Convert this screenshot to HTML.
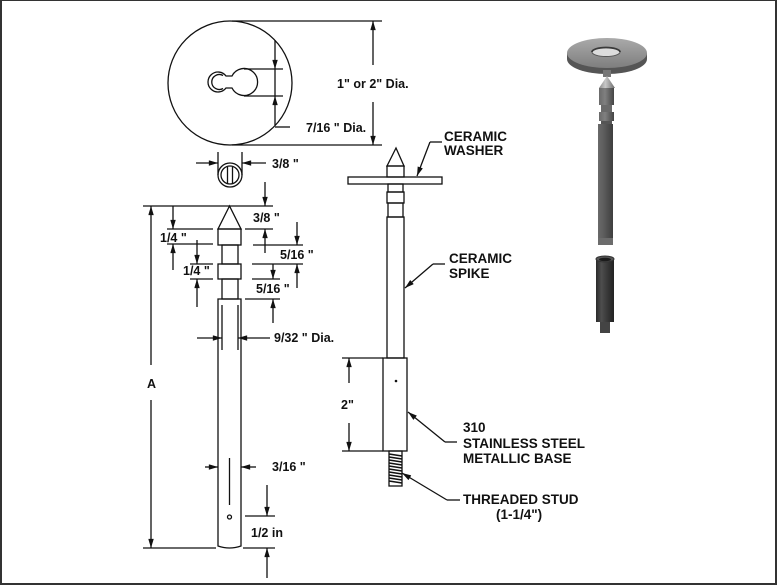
<!DOCTYPE html>
<html><head><meta charset="utf-8"><style>
html,body{margin:0;padding:0;background:#fff;}
svg{display:block;}
text{font-family:"Liberation Sans",Arial,sans-serif;font-weight:bold;fill:#111;}
.d{font-size:12.5px;}
.l{font-size:13.5px;}
</style></head><body>
<svg width="777" height="585" viewBox="0 0 777 585" xmlns="http://www.w3.org/2000/svg">
<defs>
<marker id="a" viewBox="0 0 10 6" refX="10" refY="3" markerWidth="11" markerHeight="5.5" markerUnits="userSpaceOnUse" orient="auto"><path d="M0,0 L10,3 L0,6 z" fill="#111"/></marker>
<linearGradient id="wash" x1="0" y1="0" x2="0" y2="1"><stop offset="0" stop-color="#aaaaaa"/><stop offset="1" stop-color="#7e7e7e"/></linearGradient>
<linearGradient id="shaft" x1="0" y1="0" x2="1" y2="0"><stop offset="0" stop-color="#6a6a6a"/><stop offset="0.35" stop-color="#5e5e5e"/><stop offset="1" stop-color="#3e3e3e"/></linearGradient>
<linearGradient id="base" x1="0" y1="0" x2="1" y2="0"><stop offset="0" stop-color="#2a2a2a"/><stop offset="0.3" stop-color="#4e4e4e"/><stop offset="0.6" stop-color="#3a3a3a"/><stop offset="1" stop-color="#222"/></linearGradient>
<linearGradient id="cone" x1="0" y1="0" x2="1" y2="0"><stop offset="0" stop-color="#8a8a8a"/><stop offset="0.4" stop-color="#c8c8c8"/><stop offset="1" stop-color="#6a6a6a"/></linearGradient>
<linearGradient id="col" x1="0" y1="0" x2="1" y2="0"><stop offset="0" stop-color="#6a6a6a"/><stop offset="0.4" stop-color="#808080"/><stop offset="1" stop-color="#454545"/></linearGradient>
</defs>

<!-- border -->
<rect x="0" y="0" width="777" height="1" fill="#333"/>
<rect x="0" y="0" width="2" height="585" fill="#333"/>
<rect x="775" y="0" width="2" height="585" fill="#333"/>
<rect x="0" y="583" width="777" height="2" fill="#333"/>

<g stroke="#111" stroke-width="1.3" fill="none">
<!-- washer top view -->
<circle cx="230" cy="83" r="62"/>
<line x1="232" y1="21" x2="382" y2="21"/>
<line x1="232" y1="145" x2="382" y2="145"/>
<line x1="373" y1="65" x2="373" y2="21" marker-end="url(#a)"/>
<line x1="373" y1="102" x2="373" y2="145" marker-end="url(#a)"/>
<path d="M226,76 L232,76 A13.5,13.5 0 1 1 232,88 L226,88 A10,10 0 1 1 226,76 Z"/>
<path d="M223,75.5 A7.5,7.5 0 1 0 223,88.5"/>
<line x1="244" y1="69" x2="283" y2="69"/>
<line x1="244" y1="96" x2="283" y2="96"/>
<line x1="275" y1="40" x2="275" y2="69" marker-end="url(#a)"/>
<line x1="275" y1="69" x2="275" y2="96"/>
<line x1="275" y1="125" x2="275" y2="96" marker-end="url(#a)"/>
<line x1="275" y1="127" x2="290" y2="127"/>

<!-- end view -->
<circle cx="230" cy="175" r="12"/>
<circle cx="230" cy="175" r="9"/>
<line x1="227.5" y1="167" x2="227.5" y2="183"/>
<line x1="232.5" y1="167" x2="232.5" y2="183"/>
<line x1="218" y1="152" x2="218" y2="175"/>
<line x1="242" y1="152" x2="242" y2="175"/>
<line x1="196" y1="163" x2="218" y2="163" marker-end="url(#a)"/>
<line x1="266" y1="163" x2="242" y2="163" marker-end="url(#a)"/>

<!-- left spike -->
<polygon points="229.5,206 218,229 241,229"/>
<rect x="218" y="229" width="23" height="16"/>
<rect x="222" y="245" width="16" height="19"/>
<rect x="218" y="264" width="23" height="15"/>
<rect x="222" y="279" width="16" height="20"/>
<path d="M218,299 V546 Q229.5,550 241,546 V299 Z"/>
<line x1="222" y1="305" x2="222" y2="350"/>
<line x1="238" y1="305" x2="238" y2="350"/>
<line x1="229.5" y1="458" x2="229.5" y2="505"/>
<circle cx="229.5" cy="517" r="2"/>

<!-- left dims -->
<line x1="143" y1="206" x2="273" y2="206"/>
<line x1="151" y1="365" x2="151" y2="206" marker-end="url(#a)"/>
<line x1="151" y1="400" x2="151" y2="548" marker-end="url(#a)"/>
<line x1="143" y1="548" x2="216" y2="548"/>
<line x1="243" y1="548" x2="275" y2="548"/>
<line x1="167" y1="229" x2="213" y2="229"/>
<line x1="245" y1="229" x2="273" y2="229"/>
<line x1="173" y1="206" x2="173" y2="229" marker-end="url(#a)"/>
<line x1="167" y1="244" x2="213" y2="244"/>
<line x1="173" y1="270" x2="173" y2="244" marker-end="url(#a)"/>
<line x1="197" y1="240" x2="197" y2="264" marker-end="url(#a)"/>
<line x1="190" y1="264" x2="213" y2="264"/>
<line x1="190" y1="279" x2="213" y2="279"/>
<line x1="197" y1="307" x2="197" y2="279" marker-end="url(#a)"/>
<line x1="265" y1="182" x2="265" y2="206" marker-end="url(#a)"/>
<line x1="265" y1="253" x2="265" y2="229" marker-end="url(#a)"/>
<line x1="253" y1="245" x2="303" y2="245"/>
<line x1="297" y1="222" x2="297" y2="245" marker-end="url(#a)"/>
<line x1="252" y1="264" x2="303" y2="264"/>
<line x1="297" y1="288" x2="297" y2="264" marker-end="url(#a)"/>
<line x1="273" y1="264" x2="273" y2="279" marker-end="url(#a)"/>
<line x1="252" y1="279" x2="280" y2="279"/>
<line x1="245" y1="299" x2="280" y2="299"/>
<line x1="273" y1="323" x2="273" y2="299" marker-end="url(#a)"/>
<line x1="197" y1="338" x2="222" y2="338" marker-end="url(#a)"/>
<line x1="270" y1="338" x2="238" y2="338" marker-end="url(#a)"/>
<line x1="205" y1="467" x2="218" y2="467" marker-end="url(#a)"/>
<line x1="256" y1="467" x2="241" y2="467" marker-end="url(#a)"/>
<line x1="245" y1="516" x2="275" y2="516"/>
<line x1="267" y1="485" x2="267" y2="516" marker-end="url(#a)"/>
<line x1="267" y1="578" x2="267" y2="548" marker-end="url(#a)"/>

<!-- center spike -->
<polygon points="396,148 387,166 404,166"/>
<rect x="387" y="166" width="17" height="11"/>
<rect x="348" y="177" width="94" height="7"/>
<rect x="388" y="184" width="15" height="8"/>
<rect x="387" y="192" width="17" height="11"/>
<rect x="388" y="203" width="15" height="14"/>
<rect x="387" y="217" width="17" height="141"/>
<rect x="383" y="358" width="24" height="93"/>
<rect x="389" y="451" width="13" height="35"/>
<g stroke-width="1.5">
<line x1="389" y1="454" x2="402" y2="456"/><line x1="389" y1="457" x2="402" y2="459"/>
<line x1="389" y1="460" x2="402" y2="462"/><line x1="389" y1="463" x2="402" y2="465"/>
<line x1="389" y1="466" x2="402" y2="468"/><line x1="389" y1="469" x2="402" y2="471"/>
<line x1="389" y1="472" x2="402" y2="474"/><line x1="389" y1="475" x2="402" y2="477"/>
<line x1="389" y1="478" x2="402" y2="480"/><line x1="389" y1="481" x2="402" y2="483"/>
</g>
<line x1="342" y1="358" x2="383" y2="358"/>
<line x1="342" y1="451" x2="383" y2="451"/>
<line x1="349" y1="383" x2="349" y2="358" marker-end="url(#a)"/>
<line x1="349" y1="423" x2="349" y2="451" marker-end="url(#a)"/>

<!-- leaders -->
<line x1="442" y1="142" x2="430" y2="142"/>
<line x1="430" y1="142" x2="417" y2="176" marker-end="url(#a)"/>
<line x1="445" y1="264" x2="433" y2="264"/>
<line x1="433" y1="264" x2="405" y2="288" marker-end="url(#a)"/>
<line x1="457" y1="442" x2="445" y2="442"/>
<line x1="445" y1="442" x2="408" y2="412" marker-end="url(#a)"/>
<line x1="460" y1="500" x2="447" y2="500"/>
<line x1="447" y1="500" x2="402" y2="473" marker-end="url(#a)"/>
</g>
<circle cx="396" cy="381" r="1.3" fill="#111"/>

<!-- texts -->
<text class="d" x="337" y="88">1" or 2" Dia.</text>
<text class="d" x="306" y="132">7/16 " Dia.</text>
<text class="d" x="272" y="168">3/8 "</text>
<text class="d" x="253" y="222">3/8 "</text>
<text class="d" x="160" y="242">1/4 "</text>
<text class="d" x="183" y="275">1/4 "</text>
<text class="d" x="280" y="259">5/16 "</text>
<text class="d" x="256" y="293">5/16 "</text>
<text class="d" x="274" y="342">9/32 " Dia.</text>
<text class="d" x="147" y="388">A</text>
<text class="d" x="272" y="471">3/16 "</text>
<text class="d" x="251" y="537">1/2 in</text>
<text class="d" x="341" y="409">2"</text>
<text class="l" x="444" y="141">CERAMIC</text>
<text class="l" x="444" y="155">WASHER</text>
<text class="l" x="449" y="263">CERAMIC</text>
<text class="l" x="449" y="278">SPIKE</text>
<text class="l" x="463" y="432">310</text>
<text class="l" x="463" y="448">STAINLESS STEEL</text>
<text class="l" x="463" y="463">METALLIC BASE</text>
<text class="l" x="463" y="504">THREADED STUD</text>
<text class="l" x="496" y="519">(1-1/4")</text>

<!-- 3D render -->
<ellipse cx="607" cy="59" rx="40" ry="15" fill="#555"/>
<rect x="567" y="53" width="80" height="6" fill="#555"/>
<ellipse cx="607" cy="53" rx="40" ry="15" fill="url(#wash)"/>
<ellipse cx="606" cy="52" rx="14" ry="4.5" fill="#dcdcdc" stroke="#555" stroke-width="1"/>
<path d="M592,52 A14,4.5 0 0 1 620,52" fill="none" stroke="#3a3a3a" stroke-width="1.8"/>
<rect x="603" y="70" width="8" height="7" fill="#777"/>
<polygon points="607,76 599,88 615,88" fill="url(#cone)"/>
<rect x="599" y="88" width="15" height="17" fill="url(#col)"/>
<rect x="601" y="105" width="11" height="7" fill="#6a6a6a"/>
<rect x="599" y="112" width="15" height="9" fill="url(#col)"/>
<rect x="601" y="121" width="11" height="3" fill="#555"/>
<rect x="598" y="124" width="15" height="121" fill="url(#shaft)"/>
<rect x="598" y="238" width="15" height="7" fill="#6c6c6c"/>
<rect x="596" y="259" width="18" height="63" fill="url(#base)"/>
<ellipse cx="605" cy="259" rx="9" ry="3" fill="#555" stroke="#333" stroke-width="1"/>
<ellipse cx="605" cy="259.5" rx="6" ry="1.8" fill="#1c1c1c"/>
<rect x="600" y="322" width="10" height="11" fill="#444"/>
</svg>
</body></html>
